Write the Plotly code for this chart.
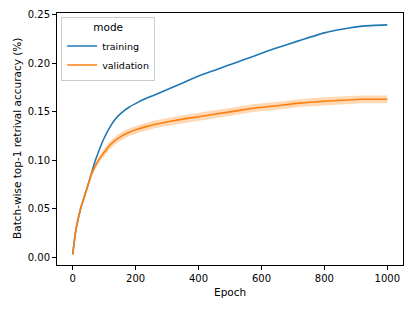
import plotly.graph_objects as go

epochs = [0, 10, 25, 50, 60, 70, 80, 90, 100, 115, 135, 155, 180, 205, 230, 260, 290, 340,
          400, 460, 520, 580, 640, 720, 800, 860, 920, 1000]
training = [0.003, 0.028, 0.050, 0.076, 0.087, 0.098, 0.107, 0.1155, 0.123, 0.1325, 0.1425, 0.149,
            0.155, 0.1595, 0.1635, 0.1675, 0.1715, 0.1785, 0.187, 0.194, 0.201, 0.208, 0.215, 0.2235,
            0.2315, 0.2355, 0.2385, 0.2397]
validation = [0.003, 0.028, 0.050, 0.076, 0.086, 0.093, 0.099, 0.104, 0.108, 0.1145, 0.1205, 0.125,
              0.129, 0.132, 0.1345, 0.137, 0.139, 0.142, 0.145, 0.148, 0.151, 0.154, 0.156, 0.159,
              0.161, 0.162, 0.163, 0.163]
validation_low = [0.003, 0.026, 0.048, 0.073, 0.083, 0.090, 0.096, 0.100, 0.104, 0.1105, 0.1165, 0.121,
                  0.125, 0.128, 0.1305, 0.133, 0.135, 0.138, 0.141, 0.144, 0.147, 0.150, 0.152, 0.155,
                  0.157, 0.158, 0.159, 0.159]
validation_high = [0.003, 0.030, 0.052, 0.079, 0.089, 0.096, 0.102, 0.108, 0.112, 0.1185, 0.1245, 0.129,
                   0.133, 0.136, 0.1385, 0.141, 0.143, 0.146, 0.149, 0.152, 0.155, 0.158, 0.160, 0.163,
                   0.165, 0.166, 0.167, 0.167]

x_ticks = [0, 200, 400, 600, 800, 1000]
y_ticks = [0.00, 0.05, 0.10, 0.15, 0.20, 0.25]
x_title = "Epoch"
y_title = "Batch-wise top-1 retrival accuracy (%)"

BLUE = "#1f77b4"
ORANGE = "#ff7f0e"
FONT = "DejaVu Sans"

# page body adds an 8px margin; figure is shrunk so the plot lands where the reference has it
W, H = 407, 303
ML, MR, MT, MB = 49, 12, 5, 46
PW, PH = W - ML - MR, H - MT - MB

fig = go.Figure()
fig.add_trace(go.Scatter(x=epochs, y=training, mode="lines", name="training",
                         line=dict(color=BLUE, width=1.6, shape="spline", smoothing=0.6)))
fig.add_trace(go.Scatter(x=epochs + epochs[::-1], y=validation_high + validation_low[::-1],
                         fill="toself", fillcolor="rgba(255,127,14,0.3)", line=dict(width=0),
                         mode="lines", showlegend=False, hoverinfo="skip"))
fig.add_trace(go.Scatter(x=epochs, y=validation, mode="lines", name="validation",
                         line=dict(color=ORANGE, width=1.6, shape="spline", smoothing=0.6)))

axis_common = dict(showline=True, linecolor="black", linewidth=1, mirror=True,
                   ticks="outside", ticklen=4, tickwidth=1, tickcolor="black",
                   showgrid=False, zeroline=False, automargin=False,
                   tickfont=dict(family=FONT, size=10, color="black"))

fig.update_xaxes(range=[-50, 1050], tickvals=x_ticks, **axis_common)
fig.update_yaxes(range=[-0.008, 0.252], tickvals=y_ticks, tickformat=".2f", **axis_common)

fig.add_annotation(text=x_title, xref="paper", yref="paper", x=0.5, y=-27 / PH,
                   xanchor="center", yanchor="middle", showarrow=False,
                   font=dict(family=FONT, size=10.5, color="black"))
fig.add_annotation(text=y_title, xref="paper", yref="paper", x=-40 / PW, y=0.5,
                   xanchor="center", yanchor="middle", showarrow=False, textangle=-90,
                   font=dict(family=FONT, size=10.5, color="black"))

fig.update_layout(
    width=W, height=H,
    margin=dict(l=ML, r=MR, t=MT, b=MB),
    plot_bgcolor="white", paper_bgcolor="white",
    font=dict(family=FONT, size=10, color="black"),
    legend=dict(x=0.012, y=0.985, xanchor="left", yanchor="top",
                bgcolor="rgba(255,255,255,0.8)", bordercolor="#cccccc", borderwidth=1,
                title=dict(text="mode", side="top center", font=dict(family=FONT, size=10.5)),
                font=dict(family=FONT, size=9.5), itemwidth=30, tracegroupgap=0),
)

fig.write_html("out.html")
